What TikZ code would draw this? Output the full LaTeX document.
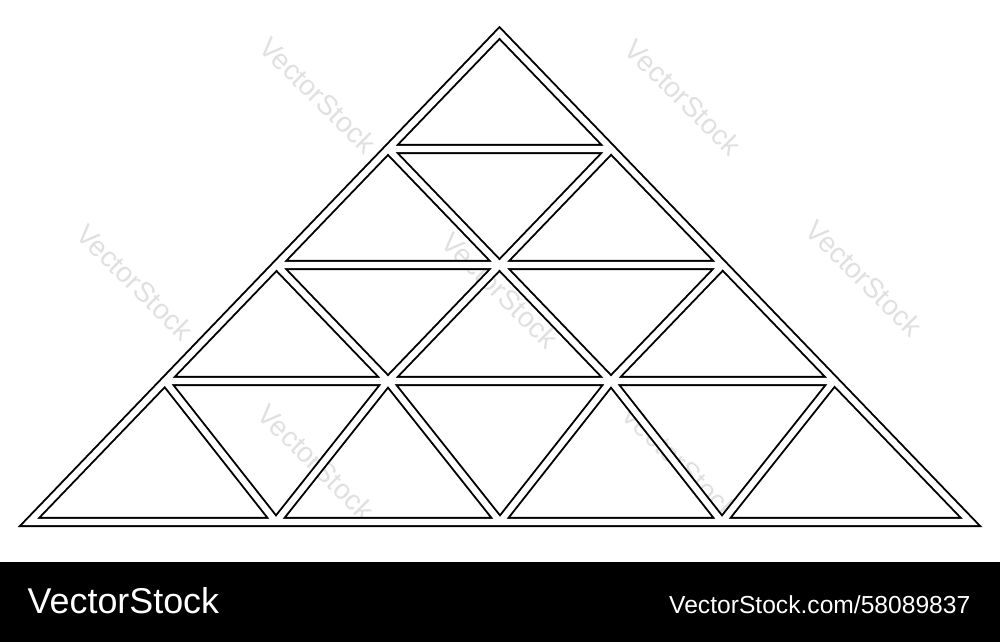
\documentclass[tikz,border=0pt]{standalone}
\usepackage{fontspec}
\setmainfont{Liberation Sans}

\tikzset{
  frame/.style={draw=black, line width=0.55pt, double=white, double distance=1.75pt, line join=miter},
  stamp/.style={text=black!12, font=\fontsize{8}{9}\selectfont, rotate=-45, inner sep=0pt}
}

\begin{document}
\begin{tikzpicture}[x=0.01cm, y=-0.01cm]
    \useasboundingbox (0,0) rectangle (1000,642);

    % Watermark
    \foreach \wx/\wy [count=\i] in {318/95, 683/97, 135/282, 500/290, 864/278, 316/462, 680/462}
        \node[stamp] (wm\i) at (\wx,\wy) {VectorStock};

    % Lattice points, row by row
    \coordinate (a0) at (499.5,33);
    \coordinate (b0) at (388,149);
    \coordinate (b1) at (611,149);
    \coordinate (c0) at (276.5,265);
    \coordinate (c1) at (499.5,265);
    \coordinate (c2) at (722.5,265);
    \coordinate (d0) at (165,381);
    \coordinate (d1) at (388,381);
    \coordinate (d2) at (611,381);
    \coordinate (d3) at (834,381);
    \coordinate (e0) at (29.5,522);
    \coordinate (e1) at (276,522);
    \coordinate (e2) at (500,522);
    \coordinate (e3) at (722,522);
    \coordinate (e4) at (970.5,522);

    % Draw Pyramid (one path, so the white core hides every crossing)
    \draw[frame] (e0) -- (a0) -- (e4) -- cycle
        (b0) -- (b1)  (c0) -- (c2)  (d0) -- (d3)
        (b1) -- (c1) -- (d1) -- (e1)
        (c2) -- (d2) -- (e2)
        (d3) -- (e3)
        (b0) -- (c1) -- (d2) -- (e3)
        (c0) -- (d1) -- (e2)
        (d0) -- (e1);

    % Footer band
    \fill[black] (0,562) rectangle (1000,642);
    \node[anchor=base west, text=white, inner sep=0pt, font=\fontsize{10.2}{12}\selectfont] (brand) at (27,613) {VectorStock};
    \node[anchor=base east, text=white, inner sep=0pt, font=\fontsize{7}{9}\selectfont] (link) at (971,613) {VectorStock.com/58089837};
\end{tikzpicture}
\end{document}
